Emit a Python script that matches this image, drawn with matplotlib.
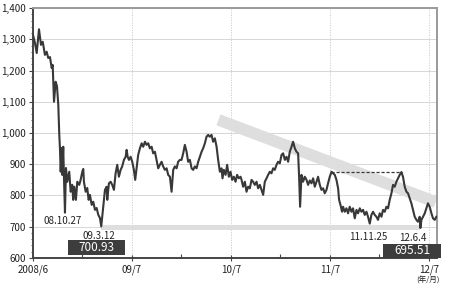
import numpy as np
import matplotlib.pyplot as plt
from matplotlib.patches import Rectangle

plt.rcParams['font.family'] = ['Noto Sans CJK JP', 'DejaVu Sans']

# months since 2008/7 (approx) and TOPIX level
months = [0.00, 0.24, 0.45, 0.73, 0.97, 1.18, 1.45, 1.66, 1.85, 2.06, 2.27, 2.39, 2.46, 2.55,
          2.75, 2.91, 3.07, 3.19, 3.27, 3.36, 3.48, 3.55, 3.67, 3.76, 3.88, 4.00, 4.16, 4.40,
          4.57, 4.76, 4.88, 5.01, 5.21, 5.37, 5.61, 5.78, 5.98, 6.10, 6.18, 6.39, 6.58, 6.75,
          6.91, 7.12, 7.31, 7.52, 7.72, 7.92, 8.12, 8.28, 8.52, 8.73, 8.93, 9.01, 9.21, 9.42,
          9.61, 9.82, 10.02, 10.22, 10.42, 10.63, 10.82, 11.03, 11.24, 11.36, 11.48, 11.64,
          11.84, 12.04, 12.24, 12.40, 12.57, 12.76, 12.97, 13.18, 13.37, 13.58, 13.78, 13.98,
          14.18, 14.39, 14.58, 14.79, 14.99, 15.19, 15.39, 15.60, 15.79, 16.00, 16.21, 16.40,
          16.61, 16.81, 17.01, 17.21, 17.42, 17.61, 17.82, 18.02, 18.22, 18.42, 18.63, 18.82,
          19.03, 19.24, 19.43, 19.64, 19.84, 20.04, 20.24, 20.45, 20.64, 20.85, 21.05, 21.25,
          21.45, 21.66, 21.85, 22.06, 22.27, 22.46, 22.67, 22.87, 22.99, 23.15, 23.36, 23.55,
          23.76, 23.96, 24.16, 24.36, 24.57, 24.76, 24.97, 25.18, 25.30, 25.49, 25.70, 25.90,
          26.10, 26.30, 26.51, 26.70, 26.91, 27.12, 27.31, 27.52, 27.72, 27.92, 28.12, 28.33,
          28.52, 28.73, 28.93, 29.13, 29.33, 29.54, 29.73, 29.94, 30.15, 30.34, 30.55, 30.75,
          30.95, 31.15, 31.36, 31.55, 31.76, 31.96, 32.16, 32.28, 32.40, 32.57, 32.76, 32.97,
          33.18, 33.37, 33.58, 33.78, 33.98, 34.18, 34.39, 34.58, 34.79, 34.99, 35.19, 35.39,
          35.60, 35.79, 36.00, 36.21, 36.40, 36.61, 36.81, 37.01, 37.13, 37.30, 37.49, 37.61,
          37.82, 38.02, 38.22, 38.42, 38.63, 38.82, 39.03, 39.24, 39.43, 39.64, 39.84, 40.04,
          40.24, 40.45, 40.64, 40.85, 41.05, 41.25, 41.45, 41.66, 41.85, 42.06, 42.27, 42.46,
          42.67, 42.87, 43.07, 43.27, 43.48, 43.67, 43.88, 44.08, 44.28, 44.48, 44.69, 44.88,
          45.09, 45.30, 45.49, 45.70, 45.90, 46.10, 46.30, 46.51, 46.70, 46.91, 46.99, 47.12,
          47.31, 47.52, 47.72, 47.91, 48.12, 48.33, 48.52, 48.73, 48.93]
topix = [1314, 1288, 1256, 1332, 1282, 1292, 1250, 1260, 1240, 1243, 1208, 1218, 1170, 1100,
         1164, 1150, 1090, 994, 952, 876, 952, 866, 956, 856, 745, 888, 844, 876,
         812, 834, 786, 828, 786, 844, 834, 850, 876, 885, 844, 812, 824, 786,
         802, 770, 780, 754, 760, 738, 728, 701, 764, 818, 828, 786, 839, 844,
         834, 818, 871, 898, 860, 882, 893, 914, 924, 946, 924, 914,
         924, 908, 882, 850, 887, 930, 951, 967, 956, 972, 962, 967,
         951, 956, 935, 940, 914, 887, 898, 908, 893, 882, 887, 866,
         860, 812, 882, 893, 887, 908, 914, 914, 935, 962, 940, 908,
         914, 887, 882, 893, 887, 908, 924, 940, 951, 967, 988, 994,
         988, 994, 972, 983, 956, 914, 876, 887, 855, 882, 866, 898,
         860, 876, 850, 860, 844, 866, 855, 860, 850, 828, 844, 812,
         828, 823, 850, 844, 834, 844, 823, 834, 818, 802, 844, 855,
         866, 876, 871, 887, 882, 898, 908, 903, 930, 935, 914, 924,
         908, 940, 956, 972, 951, 940, 935, 860, 764, 866, 844, 860,
         850, 834, 848, 839, 855, 828, 844, 860, 834, 818, 823, 807,
         818, 839, 860, 876, 871, 866, 850, 823, 786, 770, 748, 764,
         748, 759, 743, 764, 748, 759, 727, 754, 743, 759, 748, 754,
         738, 748, 732, 710, 738, 748, 738, 732, 722, 743, 732, 754,
         748, 764, 759, 786, 807, 834, 828, 844, 855, 866, 875, 860,
         828, 812, 807, 791, 775, 754, 732, 722, 716, 732, 696, 722,
         732, 743, 759, 775, 764, 743, 727, 722, 732]

xticks = [0, 12, 24, 36, 48]
xticklabels = ['2008/6', '09/7', '10/7', '11/7', '12/7']
yticks = [600, 700, 800, 900, 1000, 1100, 1200, 1300, 1400]

# support band (from 09/3 low) and resistance band (falling)
support_x = [8.24, 47.0]
support_lo, support_hi = 688, 706
resist_x = [22.5, 48.85]
resist_y = [1042, 779]
# double top line
top_x = [36.2, 44.8]
top_y = 875

date_labels = [('08.10.27', 3.6, 718), ('09.3.12', 8.0, 670),
               ('11.11.25', 40.7, 668), ('12.6.4', 46.1, 664)]
value_boxes = [('700.93', 4.24, 11.15, 610, 657), ('695.51', 42.5, 49.5, 600, 645)]

line_col = '#383838'
band_col = '#dedede'

fig = plt.figure(figsize=(4.5, 2.89), dpi=100)
ax = fig.add_axes([0.0733, 0.1073, 0.8977, 0.865])

ax.fill_between(support_x, support_lo, support_hi, color=band_col, lw=0, zorder=1)
ax.plot(resist_x, resist_y, color=band_col, lw=8.4, solid_capstyle='butt', zorder=1)
ax.plot(months, topix, color=line_col, lw=1.5, zorder=3)
ax.plot(top_x, [top_y, top_y], color=line_col, lw=0.9, ls=(0, (2.5, 1.5)), zorder=2)

for txt, x, y in date_labels:
    ax.text(x, y, txt, ha='center', va='center', fontsize=7, color='#222222', zorder=4)

for txt, x0, x1, y0, y1 in value_boxes:
    ax.add_patch(Rectangle((x0, y0), x1 - x0, y1 - y0, facecolor='#3d3d3d',
                           edgecolor='none', clip_on=False, zorder=5))
    ax.text((x0 + x1) / 2, (y0 + y1) / 2, txt, ha='center', va='center',
            fontsize=8.5, color='white', zorder=6, clip_on=False)

ax.set_xlim(0, 49)
ax.set_ylim(600, 1400)
ax.set_xticks(xticks)
ax.set_xticklabels(xticklabels)
ax.set_xticks([6, 18, 30, 42], minor=True)
ax.set_yticks(yticks)
ax.set_yticklabels([f'{v:,}' for v in yticks])
ax.set_yticks(np.arange(600, 1401, 20), minor=True)

ax.tick_params(axis='y', which='major', labelsize=7, length=3, width=0.8,
               color='#444444', pad=2, labelcolor='#222222')
ax.tick_params(axis='y', which='minor', length=1.8, width=0.6, color='#444444')
ax.tick_params(axis='x', which='major', labelsize=7, length=4, width=0.8,
               direction='inout', color='#444444', pad=3, labelcolor='#222222')
ax.tick_params(axis='x', which='minor', length=3, width=0.8, direction='in', color='#444444')

ax.grid(axis='y', color='#d0d0d0', lw=0.6, ls='-')
for x in xticks[1:]:
    ax.axvline(x, color='#c8c8c8', lw=0.6, ls=(0, (1.5, 1.5)), zorder=0)
ax.set_axisbelow(True)

ax.spines['left'].set_color('#444444')
ax.spines['left'].set_linewidth(1.4)
ax.spines['bottom'].set_color('#444444')
ax.spines['bottom'].set_linewidth(1.4)
ax.spines['top'].set_color('#9a9a9a')
ax.spines['top'].set_linewidth(1.4)
ax.spines['right'].set_color('#9a9a9a')
ax.spines['right'].set_linewidth(1.4)

fig.text(428 / 450, 1 - 281 / 289, '(年/月)', ha='center', va='center', fontsize=5.5,
         color='#222222')

fig.savefig('out.png', dpi=100, facecolor='white')
